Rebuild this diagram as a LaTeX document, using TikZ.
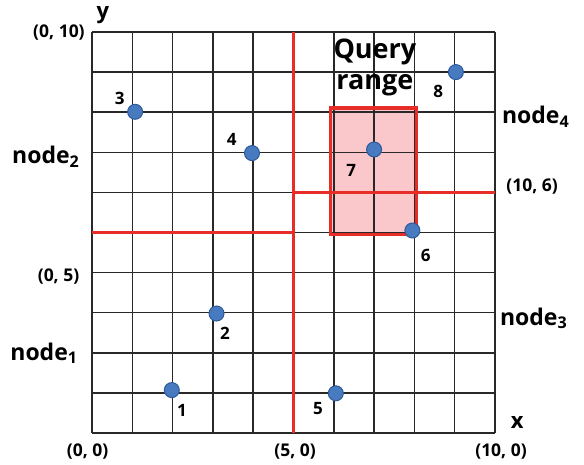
\documentclass[tikz,border=0pt]{standalone}
\usepackage{fontspec}
\setmainfont{Open Sans}
\definecolor{gridc}{RGB}{40,40,40}
\definecolor{redc}{RGB}{230,45,40}
\definecolor{pinkc}{RGB}{250,200,202}
\definecolor{ptfill}{RGB}{72,122,192}
\definecolor{ptdraw}{RGB}{45,90,155}
\tikzset{
  gridline/.style={draw=gridc, line width=1.5pt},
  splitline/.style={draw=redc, line width=3.4pt},
  pt/.style={circle, fill=ptfill, draw=ptdraw, line width=1pt, minimum size=15pt, inner sep=0pt},
  num/.style={font=\bfseries\fontsize{17}{19}\selectfont, inner sep=0pt},
  coord/.style={font=\bfseries\fontsize{17.5}{19}\selectfont, inner sep=0pt},
  axis/.style={font=\bfseries\fontsize{22}{24}\selectfont, inner sep=0pt},
  region/.style={font=\bfseries\fontsize{23}{26}\selectfont, inner sep=0pt, anchor=base west},
  qtext/.style={font=\bfseries\fontsize{27}{29}\selectfont, inner sep=0pt}
}
\begin{document}
\begin{tikzpicture}[x=40.3pt, y=40.1pt]
\useasboundingbox (-92pt,-31pt) rectangle (492pt,433pt);
% query fill
\fill[pinkc] (5.92,4.95) rectangle (8.05,8.1);
% grid
\foreach \i in {0,...,10} {
  \draw[gridline] (\i,0) -- (\i,10);
  \draw[gridline] (0,\i) -- (10,\i);
}
% split lines
\draw[splitline] (5,0) -- (5,10);
\draw[splitline] (0,5) -- (5,5);
\draw[splitline] (5,6) -- (10,6);
% query border
\draw[draw=redc, line width=3.8pt] (5.92,4.95) rectangle (8.05,8.1);
% points
\node[pt] (p1) at (1.98,1.07) {};
\node[pt] (p2) at (3.09,2.98) {};
\node[pt] (p3) at (1.07,8.01) {};
\node[pt] (p4) at (3.97,6.98) {};
\node[pt] (p5) at (6.05,0.99) {};
\node[pt] (p6) at (7.95,5.05) {};
\node[pt] (p7) at (7.0,7.07) {};
\node[pt] (p8) at (9.03,9.0) {};
% point labels
\node[num] (l1) at (2.23,0.57) {1};
\node[num] (l2) at (3.30,2.49) {2};
\node[num] (l3) at (0.69,8.35) {3};
\node[num] (l4) at (3.47,7.31) {4};
\node[num] (l5) at (5.61,0.62) {5};
\node[num] (l6) at (8.28,4.44) {6};
\node[num] (l7) at (6.43,6.56) {7};
\node[num] (l8) at (8.59,8.51) {8};
% query label
\node[qtext] (q1) at (7.02,9.5) {Query};
\node[qtext] (q2) at (7.02,8.68) {range};
% axes
\node[axis] (ay) at (0.27,10.42) {y};
\node[axis] (ax) at (10.55,0.27) {x};
% coordinates
\node[coord] (c010) at (-0.82,9.98) {(0, 10)};
\node[coord] (c05) at (-0.83,3.9) {(0, 5)};
\node[coord] (c00) at (-0.11,-0.47) {(0, 0)};
\node[coord] (c50) at (5.04,-0.47) {(5, 0)};
\node[coord] (c100) at (10.15,-0.47) {(10, 0)};
\node[coord] (c106) at (10.92,6.14) {(10, 6)};
% region names
\node[region] (n2) at (-1.985,6.71) {node\textsubscript{2}};
\node[region] (n1) at (-2.03,1.82) {node\textsubscript{1}};
\node[region] (n4) at (10.17,7.72) {node\textsubscript{4}};
\node[region] (n3) at (10.12,2.69) {node\textsubscript{3}};
\end{tikzpicture}
\end{document}
